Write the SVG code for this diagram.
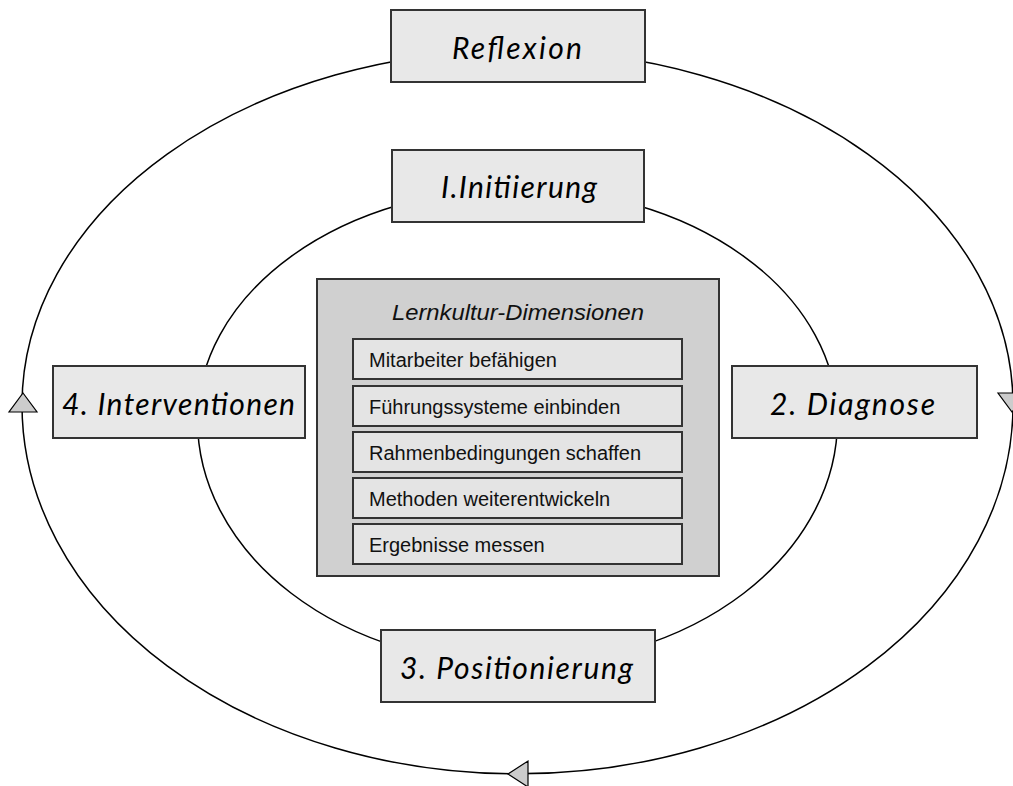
<svg xmlns="http://www.w3.org/2000/svg" width="1013" height="786" viewBox="0 0 1013 786">
<style>
.bg{fill:#ffffff}
.ring{fill:none;stroke:#000000;stroke-width:1.5}
.arrow{fill:#cccccc;stroke:#000000;stroke-width:1.2;stroke-linejoin:miter}
.label{fill:#e8e8e8;stroke:#333333;stroke-width:2}
.lt{font-family:Lato,"Open Sans","Liberation Sans",sans-serif;font-style:italic;font-size:30px;fill:#000000;text-anchor:middle}
.panel{fill:#d0d0d0;stroke:#333333;stroke-width:2}
.row{fill:#e4e4e4;stroke:#333333;stroke-width:2}
.title{font-family:"Liberation Sans",Arial,sans-serif;font-style:italic;font-size:22px;fill:#111111;text-anchor:middle}
.rt{font-family:"Liberation Sans",Arial,sans-serif;font-size:20px;fill:#111111}
</style>
<rect class="bg" x="0" y="0" width="1013" height="786"/>
<g id="connectors">
  <path class="ring" d="M 22,405 A 495.5 355 0 0 1 1013,405 A 495.5 369 0 0 1 22,405 Z"/>
  <path class="ring" d="M 197.5,420 A 320 231.5 0 0 1 837.5,420 A 320 245 0 0 1 197.5,420 Z"/>
  <polygon class="arrow" points="23,393 37,412 9,412"/>
  <polygon class="arrow" points="998,393 1026,393 1012,412"/>
  <polygon class="arrow" points="508,774 528,761 528,787"/>
</g>
<g id="reflexion">
  <rect class="label" x="391" y="10" width="254" height="72"/>
  <text class="lt" x="517" y="59" textLength="130" lengthAdjust="spacing">Reflexion</text>
</g>
<g id="initiierung">
  <rect class="label" x="392" y="150" width="252" height="72"/>
  <text class="lt" x="519" y="198" textLength="156" lengthAdjust="spacing">I.Initiierung</text>
</g>
<g id="interventionen">
  <rect class="label" x="53" y="366" width="252" height="72"/>
  <text class="lt" x="178.5" y="415" textLength="233" lengthAdjust="spacing">4. Interventionen</text>
</g>
<g id="diagnose">
  <rect class="label" x="732" y="366" width="245" height="72"/>
  <text class="lt" x="852.5" y="415" textLength="165" lengthAdjust="spacing">2. Diagnose</text>
</g>
<g id="positionierung">
  <rect class="label" x="381" y="630" width="274" height="72"/>
  <text class="lt" x="516.5" y="679" textLength="233" lengthAdjust="spacing">3. Positionierung</text>
</g>
<g id="lernkultur">
  <rect class="panel" x="317" y="279" width="402" height="297"/>
  <text class="title" x="518" y="320" textLength="252" lengthAdjust="spacingAndGlyphs">Lernkultur-Dimensionen</text>
  <g id="row1"><rect class="row" x="353" y="339" width="329" height="40"/><text class="rt" x="369" y="367">Mitarbeiter befähigen</text></g>
  <g id="row2"><rect class="row" x="353" y="386" width="329" height="40"/><text class="rt" x="369" y="414">Führungssysteme einbinden</text></g>
  <g id="row3"><rect class="row" x="353" y="432" width="329" height="40"/><text class="rt" x="369" y="460">Rahmenbedingungen schaffen</text></g>
  <g id="row4"><rect class="row" x="353" y="478" width="329" height="40"/><text class="rt" x="369" y="506">Methoden weiterentwickeln</text></g>
  <g id="row5"><rect class="row" x="353" y="524" width="329" height="40"/><text class="rt" x="369" y="552">Ergebnisse messen</text></g>
</g>
</svg>
